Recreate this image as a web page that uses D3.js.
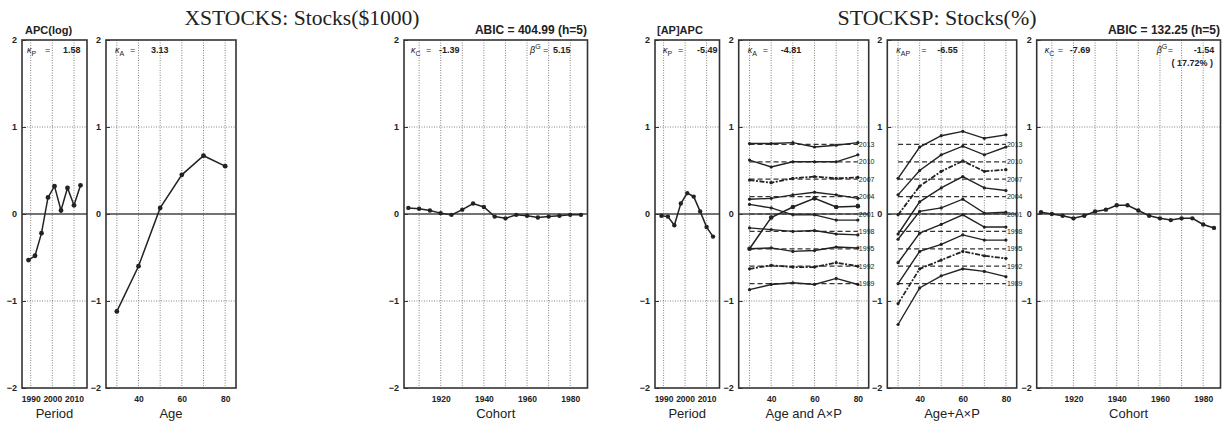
<!DOCTYPE html>
<html>
<head>
<meta charset="utf-8">
<script src="https://cdn.jsdelivr.net/npm/d3@7"></script>
<style>
  body { margin: 0; background: #fff; }
  text { font-family: "Liberation Sans", Arial, sans-serif; fill: #222; }
</style>
</head>
<body>
<svg id="chart" width="1223" height="421"></svg>
<script>
// ---------- values ----------
const periods = [1989, 1992, 1995, 1998, 2001, 2004, 2007, 2010, 2013];
const ages = [30, 40, 50, 60, 70, 80];
const cohorts = [1905, 1910, 1915, 1920, 1925, 1930, 1935, 1940, 1945, 1950, 1955, 1960, 1965, 1970, 1975, 1980, 1985];

// XSTOCKS : Stocks($1000), APC(log)
const xsPeriod = [-0.53, -0.48, -0.22, 0.19, 0.32, 0.04, 0.30, 0.10, 0.33];
const xsAge = [-1.12, -0.60, 0.07, 0.45, 0.67, 0.55];
const xsCohort = [0.07, 0.06, 0.04, 0.01, -0.01, 0.05, 0.12, 0.08, -0.03, -0.05, -0.01, -0.02, -0.04, -0.03, -0.02, -0.01, -0.01];

// STOCKSP : Stocks(%), [AP]APC
const spPeriod = [-0.02, -0.03, -0.13, 0.12, 0.24, 0.20, 0.03, -0.15, -0.26];
const spAge = [-0.40, -0.04, 0.08, 0.18, 0.08, 0.09];
const spLevel = [-0.8, -0.6, -0.4, -0.2, 0, 0.2, 0.4, 0.6, 0.8];   // dashed reference per period
// age profile of each period in the "Age and AxP" panel (one row per period)
const spAP = [
  [-0.87, -0.81, -0.79, -0.81, -0.74, -0.81],
  [-0.63, -0.59, -0.61, -0.61, -0.56, -0.60],
  [-0.40, -0.39, -0.43, -0.42, -0.38, -0.39],
  [-0.16, -0.18, -0.20, -0.19, -0.23, -0.24],
  [0.11, 0.07, -0.01, -0.01, -0.07, -0.07],
  [0.17, 0.18, 0.22, 0.25, 0.22, 0.18],
  [0.39, 0.36, 0.41, 0.43, 0.41, 0.42],
  [0.62, 0.54, 0.60, 0.60, 0.60, 0.68],
  [0.81, 0.81, 0.82, 0.77, 0.79, 0.82]
];
const spCohort = [0.02, 0.00, -0.02, -0.05, -0.02, 0.03, 0.05, 0.10, 0.10, 0.04, -0.02, -0.05, -0.07, -0.05, -0.05, -0.12, -0.16];
const dashedPeriods = [1992, 2007];

const stats = {
  xs: { kP: "1.58", kA: "3.13", kC: "-1.39", beta: "5.15", abic: "ABIC = 404.99 (h=5)" },
  sp: { kP: "-5.49", kA: "-4.81", kAP: "-6.55", kC: "-7.69", beta: "-1.54", share: "( 17.72% )", abic: "ABIC = 132.25 (h=5)" }
};

// ---------- drawing ----------
const svg = d3.select("#chart");
const y = d3.scaleLinear().domain([-2, 2]).range([388, 40]);

function panel(x0, x1, domain, grid, ticks, xTitle) {
  const x = d3.scaleLinear().domain(domain).range([x0, x1]);
  const g = svg.append("g");

  g.selectAll(".vg").data(grid).enter().append("line")
    .attr("x1", d => x(d)).attr("x2", d => x(d))
    .attr("y1", y(2)).attr("y2", y(-2))
    .attr("stroke", "#666").attr("stroke-width", 0.8).attr("stroke-dasharray", "1,1.5");
  g.selectAll(".hg").data([-1, 1]).enter().append("line")
    .attr("x1", x0).attr("x2", x1)
    .attr("y1", d => y(d)).attr("y2", d => y(d))
    .attr("stroke", "#666").attr("stroke-width", 0.8).attr("stroke-dasharray", "1,1.5");
  g.append("line").attr("x1", x0).attr("x2", x1).attr("y1", y(0)).attr("y2", y(0))
    .attr("stroke", "#444").attr("stroke-width", 1.3);

  const ya = g.append("g").attr("transform", `translate(${x0},0)`)
    .call(d3.axisLeft(y).tickValues([-2, -1, 0, 1, 2]).tickSize(-4).tickPadding(5)
      .tickFormat(d => d < 0 ? "\u2212" + Math.abs(d) : d));
  ya.select(".domain").remove();
  ya.selectAll("text").attr("font-size", 9).attr("font-weight", "bold").attr("fill", "#222").style("font-family", "Liberation Sans");
  ya.selectAll("line").attr("stroke", "#333");

  const xa = g.append("g").attr("transform", `translate(0,${y(-2)})`)
    .call(d3.axisBottom(x).tickValues(ticks).tickSize(0).tickPadding(8).tickFormat(d3.format("d")));
  xa.select(".domain").remove();
  xa.selectAll("text").attr("font-size", 8.5).attr("font-weight", "bold").attr("fill", "#222").style("font-family", "Liberation Sans");

  g.append("rect").attr("x", x0).attr("y", y(2)).attr("width", x1 - x0).attr("height", y(-2) - y(2))
    .attr("fill", "none").attr("stroke", "#333").attr("stroke-width", 1.6);

  g.append("text").attr("x", (x0 + x1) / 2).attr("y", 418).attr("text-anchor", "middle")
    .attr("font-size", 13).text(xTitle);
  return { g, x };
}

function series(p, xs, vs, r) {
  const pts = xs.map((d, i) => [d, vs[i]]);
  p.g.append("path").datum(pts)
    .attr("d", d3.line().x(d => p.x(d[0])).y(d => y(d[1])))
    .attr("fill", "none").attr("stroke", "#222").attr("stroke-width", 1.5);
  p.g.selectAll(null).data(pts).enter().append("circle")
    .attr("cx", d => p.x(d[0])).attr("cy", d => y(d[1])).attr("r", r).attr("fill", "#222");
}

function coef(p, dx, name, sub, eqDx, valDx, val, sup) {
  const x0 = p.x.range()[0] + dx, yy = 53;
  const t = p.g.append("text").attr("x", x0).attr("y", yy).attr("font-size", 9);
  t.append("tspan").attr("font-style", "italic").text(name);
  if (sub) t.append("tspan").attr("font-size", 7).attr("dy", sup ? -4 : 3).text(sub);
  p.g.append("text").attr("x", x0 + eqDx).attr("y", yy).attr("font-size", 9).text("=");
  p.g.append("text").attr("x", x0 + valDx).attr("y", yy).attr("font-size", 9).attr("font-weight", "bold").text(val);
}

function title(txt, cx, width) {
  svg.append("text").attr("x", cx).attr("y", 25).attr("text-anchor", "middle")
    .attr("font-size", 20).style("font-family", "'Liberation Serif', serif")
    .attr("textLength", width).attr("lengthAdjust", "spacingAndGlyphs").text(txt);
}
function subTitle(txt, x, anchor) {
  svg.append("text").attr("x", x).attr("y", 34).attr("text-anchor", anchor)
    .attr("font-size", anchor === "end" ? 12 : 11).attr("font-weight", "bold").text(txt);
}

const periodDom = [1986, 2016], ageDom = [25, 85], cohDom = [1903, 1988];
const periodGrid = [1990, 2000, 2010], ageGrid = [30, 40, 50, 60, 70, 80];
const cohGrid = [1910, 1920, 1930, 1940, 1950, 1960, 1970, 1980];

// ---- XSTOCKS ----
title("XSTOCKS: Stocks($1000)", 302, 235);
subTitle("APC(log)", 25, "start");
subTitle(stats.xs.abic, 587, "end");

const p1 = panel(22, 87, periodDom, periodGrid, periodGrid, "Period");
series(p1, periods, xsPeriod, 2.4);
coef(p1, 5, "\u03BA", "P", 18, 36, stats.xs.kP);

const p2 = panel(106, 236, ageDom, ageGrid, [40, 60, 80], "Age");
series(p2, ages, xsAge, 2.4);
coef(p2, 9, "\u03BA", "A", 15, 36, stats.xs.kA);

const p3 = panel(404, 587.5, cohDom, cohGrid, [1920, 1940, 1960, 1980], "Cohort");
series(p3, cohorts, xsCohort, 2.2);
coef(p3, 7, "\u03BA", "C", 15, 28, stats.xs.kC);
coef(p3, 126, "\u03B2", "G", 13, 23, stats.xs.beta, true);

// ---- STOCKSP ----
title("STOCKSP: Stocks(%)", 937, 199);
subTitle("[AP]APC", 657, "start");
subTitle(stats.sp.abic, 1220, "end");

const p4 = panel(655, 719.5, periodDom, periodGrid, periodGrid, "Period");
series(p4, periods, spPeriod, 2.2);
coef(p4, 8, "\u03BA", "P", 15, 34, stats.sp.kP);

function apPanel(x0, x1, label, addAge) {
  const p = panel(x0, x1, ageDom, ageGrid, [40, 60, 80], label);
  periods.forEach((per, i) => {
    p.g.append("line")
      .attr("x1", p.x(ages[0])).attr("x2", p.x(ages[ages.length - 1]))
      .attr("y1", y(spLevel[i])).attr("y2", y(spLevel[i]))
      .attr("stroke", "#333").attr("stroke-width", 1.2).attr("stroke-dasharray", "5,3");
    // Age+AxP panel adds the age effect to each period row
    const pts = ages.map((a, j) => [a, spAP[i][j] + (addAge ? spAge[j] : 0)]);
    const dashed = dashedPeriods.includes(per);
    p.g.append("path").datum(pts)
      .attr("d", d3.line().x(d => p.x(d[0])).y(d => y(d[1])))
      .attr("fill", "none").attr("stroke", "#222").attr("stroke-width", dashed ? 1.8 : 1.4)
      .attr("stroke-dasharray", dashed ? "5,1.5,2,1.5" : null);
    p.g.selectAll(null).data(pts).enter().append("circle")
      .attr("cx", d => p.x(d[0])).attr("cy", d => y(d[1])).attr("r", 1.6).attr("fill", "#222");
    p.g.append("text").attr("x", p.x(ages[ages.length - 1]) + 1).attr("y", y(spLevel[i]) + 2.5)
      .attr("font-size", 7).style("fill", "#222").text(per);
  });
  return p;
}

const p5 = apPanel(738.7, 868.7, "Age and A\u00D7P", false);
series(p5, ages, spAge, 2.3);
coef(p5, 9, "\u03BA", "A", 15, 33, stats.sp.kA);

const p6 = apPanel(887.3, 1016.7, "Age+A\u00D7P", true);
coef(p6, 9, "\u03BA", "AP", 25, 41, stats.sp.kAP);

const p7 = panel(1036.7, 1220.5, cohDom, cohGrid, [1920, 1940, 1960, 1980], "Cohort");
series(p7, cohorts, spCohort, 2.2);
coef(p7, 8, "\u03BA", "C", 13, 25, stats.sp.kC);
coef(p7, 120, "\u03B2", "G", 11, 37, stats.sp.beta, true);
p7.g.append("text").attr("x", 1213).attr("y", 66).attr("text-anchor", "end")
  .attr("font-size", 9).attr("font-weight", "bold").text(stats.sp.share);
</script>
</body>
</html>
